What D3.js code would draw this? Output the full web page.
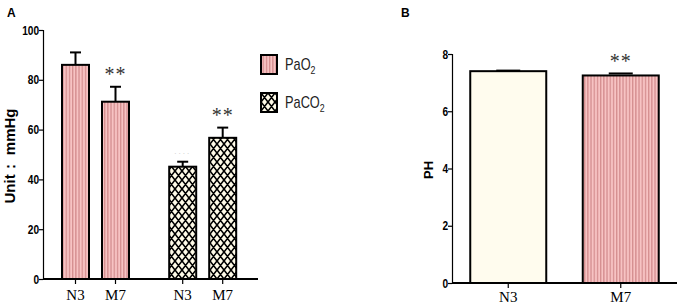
<!DOCTYPE html>
<html lang="en">
<head>
	<meta charset="utf-8">
	<title>Blood gas bar charts</title>
	<script type="text/javascript" src="https://cdn.jsdelivr.net/npm/d3@7"></script>
	<style type="text/css">
		body { margin: 0; background: #fff; }
		.tick text { font-family: "Liberation Sans", Arial, sans-serif; font-weight: bold; font-size: 13px; }
		.xlab { font-family: "Liberation Serif", "Times New Roman", serif; font-size: 15px; }
	</style>
</head>
<body>
	<script type="text/javascript">
		// data
		var groupsA = ["PaO2", "PaCO2"];
		var catsA = ["N3", "M7"];
		var pao2Mean = [86.0, 71.2];
		var pao2Err = [5.0, 6.0];
		var paco2Mean = [45.1, 56.7];
		var paco2Err = [2.0, 4.1];
		var yTicksA = [0, 20, 40, 60, 80, 100];

		var catsB = ["N3", "M7"];
		var phMean = [7.40, 7.25];
		var phErr = [0.02, 0.07];
		var yTicksB = [0, 2, 4, 6, 8];

		var w = 680, h = 305;

		var svg = d3.select("body").append("svg")
			.attr("width", w)
			.attr("height", h);

		var defs = svg.append("defs");

		// pink vertical stripes
		var stripes = defs.append("pattern")
			.attr("id", "stripes")
			.attr("patternUnits", "userSpaceOnUse")
			.attr("width", 3.2)
			.attr("height", 10);
		stripes.append("rect").attr("width", 3.2).attr("height", 10).attr("fill", "#f7c3c3");
		stripes.append("rect").attr("x", 1.6).attr("width", 1.3).attr("height", 10).attr("fill", "#d48d8f");

		// cream with black crosshatch
		var hatch = defs.append("pattern")
			.attr("id", "hatch")
			.attr("patternUnits", "userSpaceOnUse")
			.attr("width", 7)
			.attr("height", 9);
		hatch.append("rect").attr("width", 7).attr("height", 9).attr("fill", "#fffbe8");
		hatch.append("path")
			.attr("d", "M0,0 L7,9 M7,0 L0,9 M-3.5,4.5 L0,9 M3.5,-4.5 L10.5,4.5")
			.attr("stroke", "#000")
			.attr("stroke-width", 1.6)
			.attr("fill", "none");

		function styleAxis(g) {
			g.select(".domain").attr("stroke-width", 1.2);
			g.selectAll(".tick line").attr("stroke-width", 1.2);
			g.selectAll(".tick text").attr("transform", "scale(0.78,1)");
		}

		// ---------- Panel A ----------
		var yA = d3.scaleLinear().domain([0, 100]).range([279, 30]);
		var xA = d3.scaleLinear().domain([0, 1]).range([75.5, 115.5]);
		var barWA = 27;

		var dataA = [];
		groupsA.forEach(function (g, gi) {
			var means = gi === 0 ? pao2Mean : paco2Mean;
			var errs = gi === 0 ? pao2Err : paco2Err;
			catsA.forEach(function (c, ci) {
				dataA.push({ group: g, cat: c, pos: gi * 2.68 + ci, mean: means[ci], err: errs[ci], fill: gi === 0 ? "url(#stripes)" : "url(#hatch)", star: ci === 1 });
			});
		});

		var gA = svg.append("g");

		gA.append("g")
			.attr("transform", "translate(43,0)")
			.call(d3.axisLeft(yA).tickValues(yTicksA).tickSize(4).tickPadding(1))
			.call(styleAxis);

		var barsA = gA.selectAll(".barA")
			.data(dataA)
			.enter()
			.append("g")
			.attr("class", "barA");

		barsA.append("line")
			.attr("x1", d => xA(d.pos))
			.attr("x2", d => xA(d.pos))
			.attr("y1", d => yA(d.mean))
			.attr("y2", d => yA(d.mean + d.err))
			.attr("stroke", "#000")
			.attr("stroke-width", 2);
		barsA.append("line")
			.attr("x1", d => xA(d.pos) - 5.5)
			.attr("x2", d => xA(d.pos) + 5.5)
			.attr("y1", d => yA(d.mean + d.err))
			.attr("y2", d => yA(d.mean + d.err))
			.attr("stroke", "#000")
			.attr("stroke-width", 2);

		barsA.append("rect")
			.attr("x", d => xA(d.pos) - barWA / 2)
			.attr("y", d => yA(d.mean))
			.attr("width", barWA)
			.attr("height", d => yA(0) - yA(d.mean))
			.attr("fill", d => d.fill)
			.attr("stroke", "#000")
			.attr("stroke-width", 2);

		barsA.filter(d => d.star)
			.append("text")
			.attr("x", d => xA(d.pos))
			.attr("y", d => yA(d.mean + d.err) - 6)
			.attr("text-anchor", "middle")
			.attr("font-family", "Liberation Serif, serif")
			.attr("font-size", 20)
			.attr("letter-spacing", 1)
			.attr("fill", "#333")
			.text("**");

		// faint dots over N3 PaCO2
		gA.append("text")
			.attr("x", xA(2.68))
			.attr("y", yA(paco2Mean[0] + paco2Err[0]) - 8)
			.attr("text-anchor", "middle")
			.attr("font-size", 9)
			.attr("fill", "#ccc")
			.attr("letter-spacing", 2)
			.text("....");

		// x baseline + ticks
		gA.append("line")
			.attr("x1", 43).attr("x2", 258)
			.attr("y1", yA(0)).attr("y2", yA(0))
			.attr("stroke", "#000").attr("stroke-width", 2);
		gA.selectAll(".xtA")
			.data(dataA)
			.enter()
			.append("line")
			.attr("x1", d => xA(d.pos)).attr("x2", d => xA(d.pos))
			.attr("y1", yA(0)).attr("y2", yA(0) + 5)
			.attr("stroke", "#000").attr("stroke-width", 1.2);
		gA.selectAll(".xlA")
			.data(dataA)
			.enter()
			.append("text")
			.attr("class", "xlab")
			.attr("x", d => xA(d.pos))
			.attr("y", 300)
			.attr("text-anchor", "middle")
			.text(d => d.cat);

		gA.append("text")
			.attr("transform", "translate(15,156) rotate(-90)")
			.attr("text-anchor", "middle")
			.attr("font-family", "Liberation Sans, Arial, sans-serif")
			.attr("font-weight", "bold")
			.attr("font-size", 15)
			.text("Unit： mmHg");

		gA.append("text")
			.attr("x", 7).attr("y", 17)
			.attr("font-family", "Liberation Sans, Arial, sans-serif")
			.attr("font-weight", "bold")
			.attr("font-size", 12)
			.text("A");

		// legend
		var legend = gA.selectAll(".leg")
			.data(groupsA)
			.enter()
			.append("g")
			.attr("transform", (d, i) => `translate(261,${55 + i * 38})`);
		legend.append("rect")
			.attr("width", 16).attr("height", 19)
			.attr("fill", (d, i) => i === 0 ? "url(#stripes)" : "url(#hatch)")
			.attr("stroke", "#000").attr("stroke-width", 2);
		var lt = legend.append("text")
			.attr("transform", "translate(24,15) scale(0.8,1)")
			.attr("font-family", "Liberation Sans, Arial, sans-serif")
			.attr("font-size", 16)
			.attr("fill", "#222");
		lt.append("tspan").text(d => d.slice(0, -1));
		lt.append("tspan").attr("dy", 4).attr("font-size", 11).text("2");

		// ---------- Panel B ----------
		var yB = d3.scaleLinear().domain([0, 8]).range([283, 54]);
		var xB = d3.scalePoint().domain(catsB).range([452, 677]).padding(0.5);
		var barWB = 76;
		var dataB = catsB.map((c, i) => ({ cat: c, mean: phMean[i], err: phErr[i], fill: i === 0 ? "#fffcee" : "url(#stripes)", star: i === 1 }));

		var gB = svg.append("g");
		gB.append("g")
			.attr("transform", "translate(452,0)")
			.call(d3.axisLeft(yB).tickValues(yTicksB).tickSize(4).tickPadding(1))
			.call(styleAxis);

		var barsB = gB.selectAll(".barB")
			.data(dataB)
			.enter()
			.append("g");
		barsB.append("line")
			.attr("x1", d => xB(d.cat) - 12).attr("x2", d => xB(d.cat) + 12)
			.attr("y1", d => yB(d.mean + d.err)).attr("y2", d => yB(d.mean + d.err))
			.attr("stroke", "#000").attr("stroke-width", 2);
		barsB.append("rect")
			.attr("x", d => xB(d.cat) - barWB / 2)
			.attr("y", d => yB(d.mean))
			.attr("width", barWB)
			.attr("height", d => yB(0) - yB(d.mean))
			.attr("fill", d => d.fill)
			.attr("stroke", "#000").attr("stroke-width", 2);
		barsB.filter(d => d.star)
			.append("text")
			.attr("x", d => xB(d.cat))
			.attr("y", d => yB(d.mean + d.err) - 5)
			.attr("text-anchor", "middle")
			.attr("font-family", "Liberation Serif, serif")
			.attr("font-size", 20)
			.attr("letter-spacing", 1)
			.attr("fill", "#333")
			.text("**");

		gB.append("line")
			.attr("x1", 452).attr("x2", 677)
			.attr("y1", yB(0)).attr("y2", yB(0))
			.attr("stroke", "#000").attr("stroke-width", 2);
		gB.selectAll(".xtB")
			.data(catsB)
			.enter()
			.append("line")
			.attr("x1", d => xB(d)).attr("x2", d => xB(d))
			.attr("y1", yB(0)).attr("y2", yB(0) + 5)
			.attr("stroke", "#000").attr("stroke-width", 1.2);
		gB.selectAll(".xlB")
			.data(catsB)
			.enter()
			.append("text")
			.attr("class", "xlab")
			.attr("x", d => xB(d))
			.attr("y", 302)
			.attr("text-anchor", "middle")
			.text(d => d);

		gB.append("text")
			.attr("transform", "translate(433,170) rotate(-90)")
			.attr("text-anchor", "middle")
			.attr("font-family", "Liberation Sans, Arial, sans-serif")
			.attr("font-weight", "bold")
			.attr("font-size", 13)
			.text("PH");

		gB.append("text")
			.attr("x", 401).attr("y", 17)
			.attr("font-family", "Liberation Sans, Arial, sans-serif")
			.attr("font-weight", "bold")
			.attr("font-size", 12)
			.text("B");
	</script>
</body>
</html>
